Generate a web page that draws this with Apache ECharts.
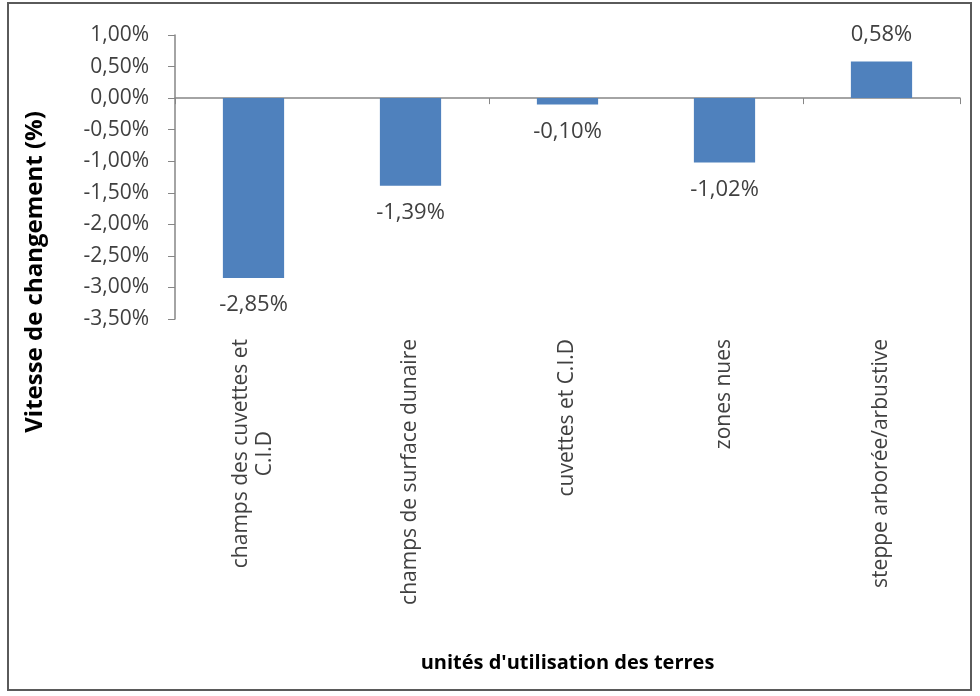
<!DOCTYPE html>
<html>
<head>
<meta charset="utf-8">
<script src="https://cdn.jsdelivr.net/npm/echarts@6/dist/echarts.min.js"></script>
<style>
  html, body { margin: 0; padding: 0; background: #fff; }
  #main { width: 980px; height: 696px; }
</style>
</head>
<body>
<div id="main"></div>
<script>
// unités d'utilisation des terres
var categories = [
    'champs des cuvettes et\nC.I.D',
    'champs de surface dunaire',
    'cuvettes et C.I.D',
    'zones nues',
    'steppe arborée/arbustive'
];
// vitesse de changement, en %
var values = [-2.85, -1.39, -0.10, -1.02, 0.58];
var yTicks = { min: -3.5, max: 1, interval: 0.5 };

function fmt(v) {
    return v.toFixed(2).replace('.', ',') + '%';
}

var txtColor = '#404040';
var lineColor = '#868686';
var font = 'Open Sans';

var barData = [];
for (var i = 0; i < values.length; i++) {
    barData.push({
        value: values[i],
        label: { position: values[i] < 0 ? 'bottom' : 'top' }
    });
}

var myChart = echarts.init(document.getElementById('main'));

var option = {
    animation: false,
    backgroundColor: '#fff',
    grid: { left: 175, right: 20, top: 35, bottom: 377, containLabel: false },
    xAxis: [{
        // axe du bas : étiquettes seulement
        type: 'category',
        data: categories,
        position: 'bottom',
        axisLine: { show: false, onZero: false },
        axisTick: { show: false },
        axisLabel: {
            rotate: 90,
            margin: 20,
            color: txtColor,
            fontFamily: font,
            fontSize: 21,
            lineHeight: 24,
            interval: 0,
            // lignes centrées comme dans Excel
            formatter: function (v) {
                return v.split('\n').map(function (s) { return '{c|' + s + '}'; }).join('\n');
            },
            rich: {
                c: { align: 'center', color: txtColor, fontFamily: font, fontSize: 21, lineHeight: 24 }
            }
        },
        name: "unités d'utilisation des terres",
        nameLocation: 'middle',
        nameGap: 334,
        nameTextStyle: { color: '#000', fontFamily: font, fontWeight: 'bold', fontSize: 20 }
    }, {
        // ligne du zéro avec les graduations
        type: 'category',
        data: categories,
        position: 'bottom',
        axisLine: { show: true, onZero: true, lineStyle: { color: lineColor, width: 1.5 } },
        axisTick: { show: true, length: 6, lineStyle: { color: lineColor } },
        axisLabel: { show: false }
    }],
    yAxis: {
        type: 'value',
        min: yTicks.min,
        max: yTicks.max,
        interval: yTicks.interval,
        splitLine: { show: false },
        axisLine: { show: true, lineStyle: { color: lineColor, width: 1.5 } },
        axisTick: { show: true, length: 7, lineStyle: { color: lineColor } },
        axisLabel: {
            margin: 26,
            color: txtColor,
            fontFamily: font,
            fontSize: 21,
            formatter: fmt
        }
    },
    graphic: [{
        type: 'text',
        x: 35,
        y: 272,
        rotation: Math.PI / 2,
        style: {
            text: 'Vitesse de changement (%)',
            fill: '#000',
            font: 'bold 24px "Open Sans"',
            align: 'center',
            verticalAlign: 'middle'
        }
    }, {
        type: 'rect',
        shape: { x: 8, y: 3, width: 963, height: 687 },
        style: { fill: 'none', stroke: '#5a5a5a', lineWidth: 2 },
        z: 10
    }],
    series: [{
        type: 'bar',
        xAxisIndex: 0,
        data: barData,
        barWidth: '39%',
        itemStyle: { color: '#4F81BD' },
        label: {
            show: true,
            distance: 16,
            color: txtColor,
            fontFamily: font,
            fontSize: 22,
            formatter: function (p) { return fmt(p.value); }
        }
    }]
};

myChart.setOption(option);
</script>
</body>
</html>
